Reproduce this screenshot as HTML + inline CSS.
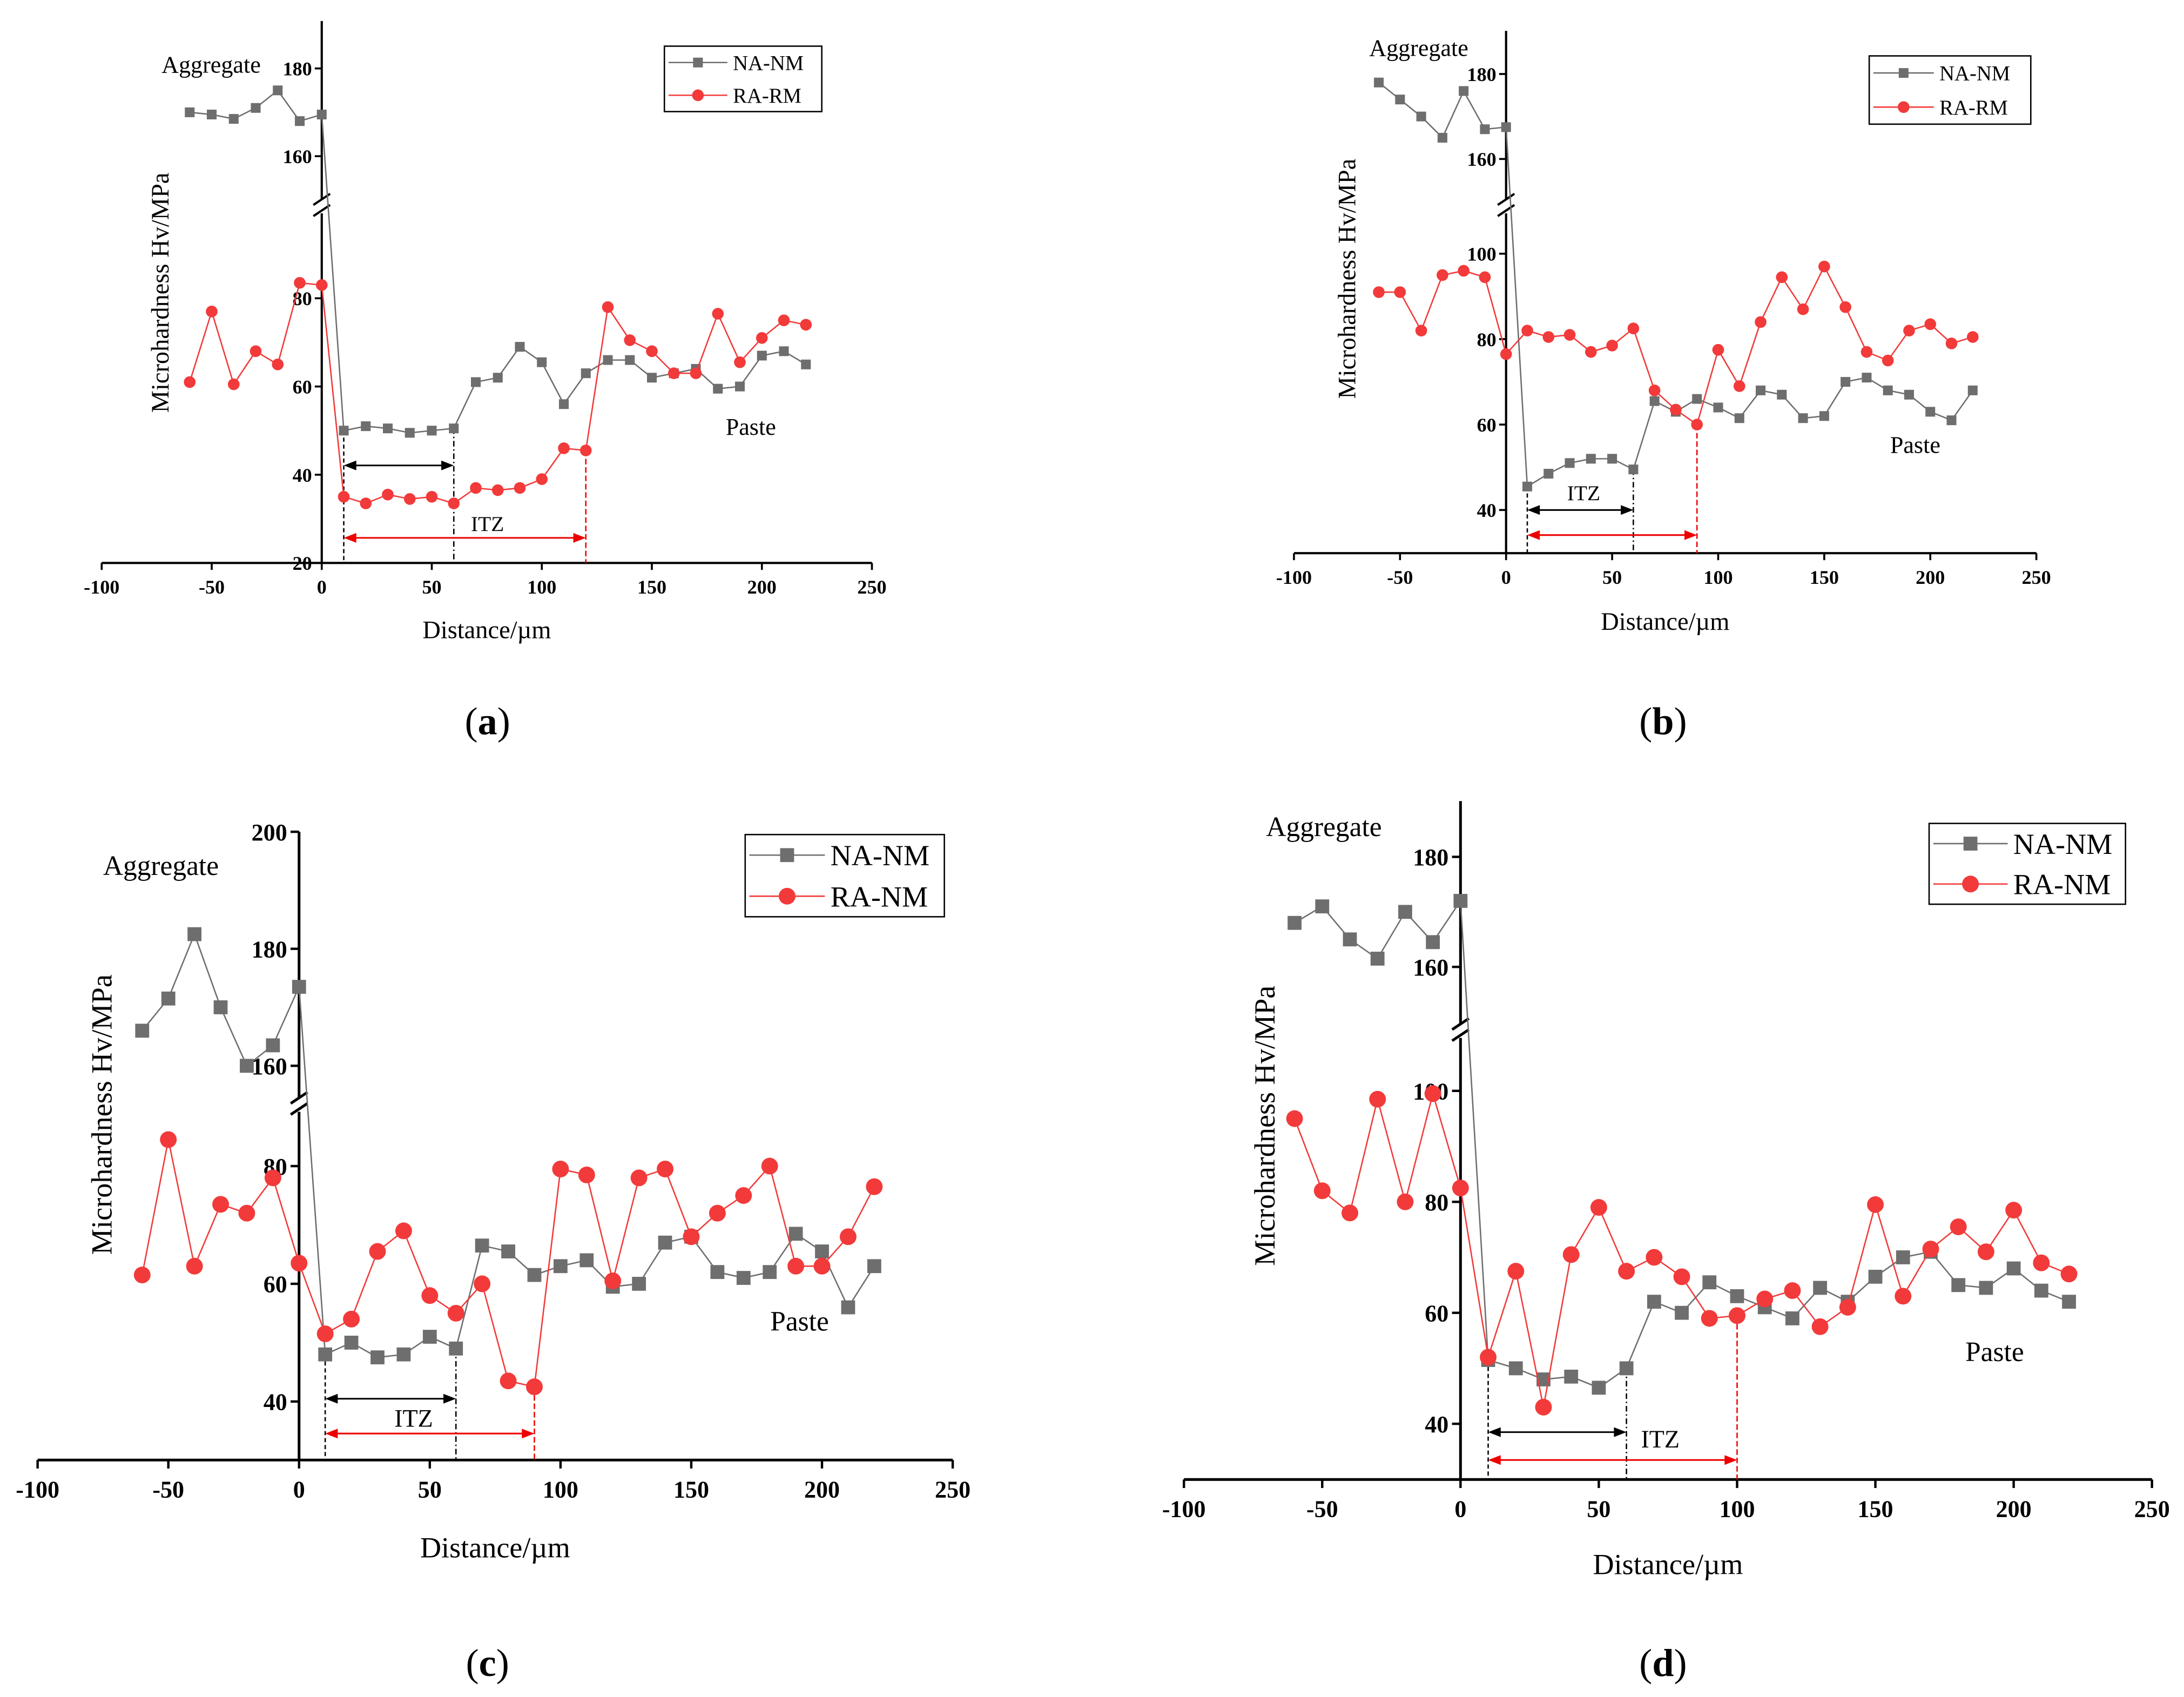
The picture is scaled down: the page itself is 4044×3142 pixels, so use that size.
<!DOCTYPE html>
<html><head><meta charset="utf-8"><style>
html,body{margin:0;padding:0;background:#fff}
svg{display:block}
text{font-family:"Liberation Serif",serif}
</style></head><body>
<svg id="chart" xmlns="http://www.w3.org/2000/svg" width="4044" height="3142" viewBox="0 0 1568 1218">
<rect width="1568" height="1218" fill="#fff"/>
</svg>
<script>
const distances = [-60,-50,-40,-30,-20,-10,0,10,20,30,40,50,60,70,80,90,100,110,120,130,140,150,160,170,180,190,200,210,220];
const aNA = [170,169.5,168.5,171,175,168,169.5,50,51,50.5,49.5,50,50.5,61,62,69,65.5,56,63,66,66,62,63,64,59.5,60,67,68,65];
const aRA = [61,77,60.5,68,65,83.5,83,35,33.5,35.5,34.5,35,33.5,37,36.5,37,39,46,45.5,78,70.5,68,63,63,76.5,65.5,71,75,74];
const bNA = [178,174,170,165,176,167,167.5,45.5,48.5,51,52,52,49.5,65.5,63,66,64,61.5,68,67,61.5,62,70,71,68,67,63,61,68];
const bRA = [91,91,82,95,96,94.5,76.5,82,80.5,81,77,78.5,82.5,68,63.5,60,77.5,69,84,94.5,87,97,87.5,77,75,82,83.5,79,80.5];
const cNA = [166,171.5,182.5,170,160,163.5,173.5,48,50,47.5,48,51,49,66.5,65.5,61.5,63,64,59.5,60,67,68,62,61,62,68.5,65.5,56,63];
const cRA = [61.5,84.5,63,73.5,72,78,63.5,51.5,54,65.5,69,58,55,60,43.5,42.5,79.5,78.5,60.5,78,79.5,68,72,75,80,63,63,68,76.5];
const dNA = [168,171,165,161.5,170,164.5,172,51.5,50,48,48.5,46.5,50,62,60,65.5,63,61,59,64.5,62,66.5,70,71,65,64.5,68,64,62];
const dRA = [95,82,78,98.5,80,99.5,82.5,52,67.5,43,70.5,79,67.5,70,66.5,59,59.5,62.5,64,57.5,61,79.5,63,71.5,75.5,71,78.5,69,67];
const xTicks = [-100,-50,0,50,100,150,200,250];
const aLowTicks=[20,40,60,80], aUpTicks=[160,180];
const bLowTicks=[40,60,80,100], bUpTicks=[160,180];
const cLowTicks=[40,60,80], cUpTicks=[160,180,200];
const dLowTicks=[40,60,80,100], dUpTicks=[160,180];
const legA=['NA-NM','RA-RM'], legB=['NA-NM','RA-RM'], legC=['NA-NM','RA-NM'], legD=['NA-NM','RA-NM'];

const svg=document.getElementById('chart');
const NS='http://www.w3.org/2000/svg';
function el(tag,attrs,parent){const e=document.createElementNS(NS,tag);for(const k in attrs)e.setAttribute(k,attrs[k]);(parent||svg).appendChild(e);return e;}
function txt(s,attrs,parent){const e=el('text',attrs,parent);e.textContent=s;return e;}

function panel(cfg){
  const g=el('g',{});
  
  
  const X=v=>cfg.x0+(v-(-100))*(cfg.x1-cfg.x0)/350;
  const Y=v=>v>120 ? cfg.uy1+(v-cfg.uv1)*(cfg.uy2-cfg.uy1)/(cfg.uv2-cfg.uv1)
                   : cfg.ly1+(v-cfg.lv1)*(cfg.ly2-cfg.ly1)/(cfg.lv2-cfg.lv1);
  const ax=X(0), s=cfg.s;
  const xa=el('line',{x1:cfg.x0,y1:cfg.ay,x2:cfg.x1,y2:cfg.ay,stroke:'#000','stroke-width':1.6*s},g);
  
  xTicks.forEach(t=>{
    el('line',{x1:X(t),y1:cfg.ay,x2:X(t),y2:cfg.ay+5*s,stroke:'#000','stroke-width':1.4*s},g);
    const tl=txt(t,{x:X(t),y:cfg.ay+22*s,'font-size':14*s,'font-weight':'bold','text-anchor':'middle'},g);
    
  });
  el('line',{x1:ax,y1:cfg.top,x2:ax,y2:cfg.brk-5,stroke:'#000','stroke-width':1.6*s},g);
  el('line',{x1:ax,y1:cfg.brk+5,x2:ax,y2:cfg.ay,stroke:'#000','stroke-width':1.6*s},g);
  el('line',{x1:ax-6,y1:cfg.brk-1,x2:ax+6,y2:cfg.brk-9,stroke:'#000','stroke-width':1.6*s},g);
  el('line',{x1:ax-6,y1:cfg.brk+7,x2:ax+6,y2:cfg.brk-1,stroke:'#000','stroke-width':1.6*s},g);
  cfg.low.concat(cfg.up).forEach(t=>{
    el('line',{x1:ax-5*s,y1:Y(t),x2:ax,y2:Y(t),stroke:'#000','stroke-width':1.4*s},g);
    const tl=txt(t,{x:ax-7*s,y:Y(t)+5*s,'font-size':14*s,'font-weight':'bold','text-anchor':'end'},g);
    
  });
  const yt=txt('Microhardness Hv/MPa',{x:0,y:0,'font-size':cfg.tf,'text-anchor':'middle',transform:`translate(${cfg.ytx},${cfg.yty}) rotate(-90)`},g);
  
  const xt=txt('Distance/\u00b5m',{x:(cfg.x0+cfg.x1)/2+cfg.xtdx,y:cfg.ay+cfg.xtdy,'font-size':cfg.tf,'text-anchor':'middle'},g);
  
  const ag=txt('Aggregate',{x:cfg.agx,y:cfg.agy,'font-size':cfg.tf*0.95},g);
  
  const pa=txt('Paste',{x:cfg.pax,y:cfg.pay,'font-size':cfg.tf*0.95},g);
  
  const vline=(d,col,top,dash)=>el('line',{x1:X(d),y1:top,x2:X(d),y2:cfg.ay,stroke:col,'stroke-width':1,'stroke-dasharray':dash},g);
  vline(10,'#000',Y(cfg.na[7]),'3,2');
  vline(cfg.itzB,'#000',Y(cfg.na[distances.indexOf(cfg.itzB)]),'4,2,1,2');
  vline(cfg.itzR,'#e00',Y(cfg.ra[distances.indexOf(cfg.itzR)]),'4,2');
  const arrow=(y,x2,col,name)=>{
    const a=el('line',{x1:X(10)+2,y1:y,x2:X(x2)-2,y2:y,stroke:col,'stroke-width':1.2},g);
    
    el('polygon',{points:`${X(10)},${y} ${X(10)+9},${y-3.5} ${X(10)+9},${y+3.5}`,fill:col},g);
    el('polygon',{points:`${X(x2)},${y} ${X(x2)-9},${y-3.5} ${X(x2)-9},${y+3.5}`,fill:col},g);
  };
  arrow(cfg.ab,cfg.itzB,'#000','itz-arrow-na');
  arrow(cfg.ar,cfg.itzR,'#e00','itz-arrow-ra');
  const it=txt('ITZ',{x:cfg.itzx,y:cfg.itzy,'font-size':cfg.tf*0.85,'text-anchor':'middle'},g);
  
  const series=(vals,col,shape,name)=>{
    const sg=el('g',{},g);
    
    el('polyline',{points:vals.map((v,i)=>X(distances[i])+','+Y(v)).join(' '),fill:'none',stroke:col,'stroke-width':1},sg);
    vals.forEach((v,i)=>{
      let m;
      if(shape==='sq'){const h=cfg.ms;m=el('rect',{x:X(distances[i])-h,y:Y(v)-h,width:2*h,height:2*h,fill:col},sg);}
      else m=el('circle',{cx:X(distances[i]),cy:Y(v),r:cfg.ms*1.2,fill:col},sg);
      
    });
  };
  series(cfg.na,'#6e6e6e','sq','series-na-nm');
  series(cfg.ra,'#f23a3a','ci','series-ra');
  const lg=el('g',{},g);
  
  el('rect',{x:cfg.lx,y:cfg.ly,width:cfg.lw,height:cfg.lh,fill:'#fff',stroke:'#000','stroke-width':1},lg);
  const rh=cfg.lh/2;
  [['#6e6e6e','sq'],['#f23a3a','ci']].forEach((c,i)=>{
    const cy=cfg.ly+rh*(i+0.5), l0=cfg.lx+3, l1=cfg.lx+cfg.lw*0.4;
    el('line',{x1:l0,y1:cy,x2:l1,y2:cy,stroke:c[0],'stroke-width':1},lg);
    const mx=(l0+l1)/2;
    if(c[1]==='sq')el('rect',{x:mx-cfg.ms,y:cy-cfg.ms,width:2*cfg.ms,height:2*cfg.ms,fill:c[0]},lg);
    else el('circle',{cx:mx,cy:cy,r:cfg.ms*1.2,fill:c[0]},lg);
    const lt=txt(cfg.leg[i],{x:l1+4,y:cy+cfg.lf*0.35,'font-size':cfg.lf},lg);
    
  });
  const cap=el('text',{x:cfg.capx,y:cfg.capy,'font-size':28,'text-anchor':'middle'},g);
  
  const t1=el('tspan',{},cap);t1.textContent='(';
  const t2=el('tspan',{'font-weight':'bold'},cap);t2.textContent=cfg.id;
  const t3=el('tspan',{},cap);t3.textContent=')';
}

panel({id:'a',x0:73,x1:626,ay:404,top:15,brk:148,ly1:404,lv1:20,ly2:214,lv2:80,uy1:49,uv1:180,uy2:112,uv2:160,
 low:aLowTicks,up:aUpTicks,na:aNA,ra:aRA,s:1,tf:18,ytx:121,yty:210,xtdx:0,xtdy:54,agx:116,agy:52,pax:521,pay:312,
 itzB:60,itzR:120,ab:334,ar:386,itzx:350,itzy:381,lx:477,ly:33,lw:113,lh:47,lf:15,ms:3.5,leg:legA,capx:350,capy:527});
panel({id:'b',x0:929,x1:1462,ay:397,top:22,brk:148,ly1:366,lv1:40,ly2:182,lv2:100,uy1:53,uv1:180,uy2:114,uv2:160,
 low:bLowTicks,up:bUpTicks,na:bNA,ra:bRA,s:1,tf:18,ytx:973,yty:200,xtdx:0,xtdy:55,agx:983,agy:40,pax:1357,pay:325,
 itzB:60,itzR:90,ab:366,ar:384,itzx:1137,itzy:359,lx:1342,ly:40,lw:116,lh:49,lf:15,ms:3.5,leg:legB,capx:1194,capy:527});
panel({id:'c',x0:27,x1:684,ay:1048,top:597,brk:793,ly1:1006,lv1:40,ly2:837,lv2:80,uy1:681,uv1:180,uy2:765,uv2:160,
 low:cLowTicks,up:cUpTicks,na:cNA,ra:cRA,s:1.22,tf:21,ytx:80,yty:800,xtdx:0,xtdy:70,agx:74,agy:628,pax:553,pay:955,
 itzB:60,itzR:90,ab:1004,ar:1029,itzx:297,itzy:1024,lx:535,ly:599,lw:143,lh:59,lf:21,ms:5,leg:legC,capx:350,capy:1203});
panel({id:'d',x0:850,x1:1545,ay:1062,top:575,brk:740,ly1:1022,lv1:40,ly2:783,lv2:100,uy1:615,uv1:180,uy2:694,uv2:160,
 low:dLowTicks,up:dUpTicks,na:dNA,ra:dRA,s:1.22,tf:21,ytx:915,yty:808,xtdx:0,xtdy:68,agx:909,agy:600,pax:1411,pay:977,
 itzB:60,itzR:100,ab:1028,ar:1048,itzx:1192,itzy:1039,lx:1385,ly:591,lw:141,lh:58,lf:21,ms:5,leg:legD,capx:1194,capy:1203});
</script>
</body></html>
